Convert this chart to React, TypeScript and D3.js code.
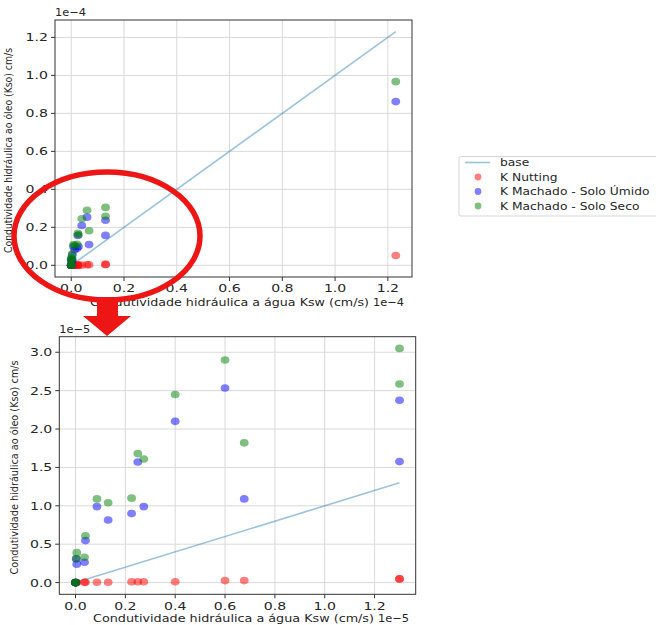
import React from "react";
import * as d3 from "d3";

// Values in units of 1e-5 cm/s
const ksw = [0, 0, 0, 0.003, 0.005, 0.036, 0.04, 0.086, 0.131, 0.225, 0.25, 0.274, 0.4, 0.6, 0.677, 1.3, 1.3, 12.3];
const kNutting = [0, 0, 0, 0, 0, 0.003, 0.003, 0.005, 0.005, 0.01, 0.01, 0.01, 0.01, 0.026, 0.026, 0.048, 0.048, 0.52];
const kUmido = [0, 0, 0, 0.31, 0.24, 0.265, 0.547, 0.99, 0.816, 0.9, 1.57, 0.99, 2.1, 2.535, 1.09, 2.375, 1.576, 8.62];
const kSeco = [0, 0, 0, 0.31, 0.39, 0.33, 0.61, 1.09, 1.04, 1.1, 1.68, 1.61, 2.45, 2.9, 1.82, 3.05, 2.587, 9.67];

const seriesNames = ["base", "K Nutting", "K Machado - Solo Úmido", "K Machado - Solo Seco"];
const seriesColors = ["#1f77b4", "red", "blue", "green"];

const topTicksX = [0, 0.2, 0.4, 0.6, 0.8, 1.0, 1.2];
const topTicksY = [0, 0.2, 0.4, 0.6, 0.8, 1.0, 1.2];
const botTicksX = [0, 0.2, 0.4, 0.6, 0.8, 1.0, 1.2];
const botTicksY = [0, 0.5, 1.0, 1.5, 2.0, 2.5, 3.0];

const xLabel = "Condutividade hidráulica a água Ksw (cm/s)";
const yLabel = "Condutividade hidráulica ao óleo (Kso) cm/s";
const zoomLimit = 2; // 1e-5: samples shown in the zoomed panel

const FONT = "DejaVu Sans, sans-serif";
const SX = 1.28;

function T(props: any) {
  const { x, y, anchor = "middle", size = 11, fill = "#262626", children, rotate, len } = props;
  const tr = rotate
    ? `translate(${x},${y}) rotate(-90)`
    : len
    ? `translate(${x},${y})`
    : `translate(${x},${y}) scale(${SX},1)`;
  return (
    <text transform={tr} textAnchor={anchor} fontSize={size} fontFamily={FONT} fill={fill}
      textLength={len} lengthAdjust={len ? "spacingAndGlyphs" : undefined}>
      {children}
    </text>
  );
}

function Panel(props: any) {
  const { box, idx, factor, xTicks, yTicks, expo, ylabX, ylabLen, xlabY, xlabLen, tickLabY } = props;
  const xs = idx.map((i: number) => ksw[i] / factor);
  const series = [kNutting, kUmido, kSeco].map((s) => idx.map((i: number) => s[i] / factor));
  const xMax = d3.max(xs) as number;
  const xMin = d3.min(xs) as number;
  const allY = ([] as number[]).concat(...series, [0, xMax]);
  const yMin = d3.min(allY) as number;
  const yMax = d3.max(allY) as number;
  const mx = (xMax - xMin) * 0.05;
  const my = (yMax - yMin) * 0.05;
  const x = d3.scaleLinear().domain([xMin - mx, xMax + mx]).range([box.l, box.r]);
  const y = d3.scaleLinear().domain([yMin - my, yMax + my]).range([box.b, box.t]);
  const fmt = d3.format(".1f");
  const line = d3.line<number>().x((d) => x(d)).y((d) => y(d))([0, xMax]) as string;
  const pts = xs.map((v: number, j: number) => j);
  const cx = (box.l + box.r) / 2;
  return (
    <g>
      {xTicks.map((t: number) => (
        <g key={"gx" + t}>
          <line x1={x(t)} x2={x(t)} y1={box.t} y2={box.b} stroke="#d9d9d9" strokeWidth={1} />
          <line x1={x(t)} x2={x(t)} y1={box.b} y2={box.b + 4} stroke="#333" strokeWidth={1} />
          <T x={x(t)} y={tickLabY}>{fmt(t)}</T>
        </g>
      ))}
      {yTicks.map((t: number) => (
        <g key={"gy" + t}>
          <line x1={box.l} x2={box.r} y1={y(t)} y2={y(t)} stroke="#d9d9d9" strokeWidth={1} />
          <line x1={box.l - 4} x2={box.l} y1={y(t)} y2={y(t)} stroke="#333" strokeWidth={1} />
          <T x={box.l - 7} y={y(t) + 4} anchor="end">{fmt(t)}</T>
        </g>
      ))}
      <path d={line} fill="none" stroke={seriesColors[0]} strokeOpacity={0.45} strokeWidth={1.6} />
      {series.map((s, k) => (
        <g key={"s" + k}>
          {pts.map((j: number) => (
            <ellipse key={j} cx={x(xs[j])} cy={y(s[j])} rx={4.4} ry={3.8} fill={seriesColors[k + 1]} fillOpacity={0.5} />
          ))}
        </g>
      ))}
      <rect x={box.l} y={box.t} width={box.r - box.l} height={box.b - box.t} fill="none" stroke="#333" strokeWidth={1} />
      <T x={box.l} y={box.t - 4} anchor="start" len={31}>{`1e\u2212${expo}`}</T>
      <T x={cx - 4 - xlabLen / 2} y={xlabY} anchor="start" len={xlabLen}>{xLabel}</T>
      <T x={cx - xlabLen / 2 + xlabLen} y={xlabY} anchor="start" len={31}>{`1e\u2212${expo}`}</T>
      <T x={ylabX} y={(box.t + box.b) / 2 + 2} rotate size={10.5} len={ylabLen}>{yLabel}</T>
    </g>
  );
}

export default function App() {
  const allIdx = ksw.map((_, i) => i);
  const zoomIdx = allIdx.filter((i) => ksw[i] < zoomLimit);
  const legY = [162.5, 177, 191.5, 206];
  return (
    <svg width={656} height={625} style={{ position: "absolute", left: 0, top: 0, background: "#fff" }}>
      <rect width={656} height={625} fill="#fff" />
      <Panel box={{ l: 55, r: 412, t: 20, b: 277 }} idx={allIdx} factor={10} xTicks={topTicksX} yTicks={topTicksY}
        expo={4} ylabX={12} ylabLen={205} xlabY={306} xlabLen={279} tickLabY={292} />
      <Panel box={{ l: 59.3, r: 415.7, t: 336.7, b: 594.3 }} idx={zoomIdx} factor={1} xTicks={botTicksX} yTicks={botTicksY}
        expo={5} ylabX={18} ylabLen={214} xlabY={622} xlabLen={281} tickLabY={610} />
      <g>
        <rect x={459} y={156.5} width={220} height={59.5} rx={2} fill="#fff" stroke="#d5d5d5" />
        {seriesNames.map((n, i) => (
          <g key={n}>
            {i === 0 ? (
              <line x1={465} x2={490} y1={legY[i]} y2={legY[i]} stroke={seriesColors[0]} strokeOpacity={0.45} strokeWidth={1.6} />
            ) : (
              <circle cx={478} cy={legY[i]} r={3.4} fill={seriesColors[i]} fillOpacity={0.5} />
            )}
            <T x={500} y={legY[i] + 3.5} anchor="start" size={9.6}>{n}</T>
          </g>
        ))}
      </g>
      <ellipse cx={107} cy={236} rx={93} ry={64} fill="none" stroke="#ee1515" strokeWidth={5.5} />
      <polygon points="97,297 118,297 118,316 131,316 107,336 83,316 97,316" fill="#ee1515" />
    </svg>
  );
}
